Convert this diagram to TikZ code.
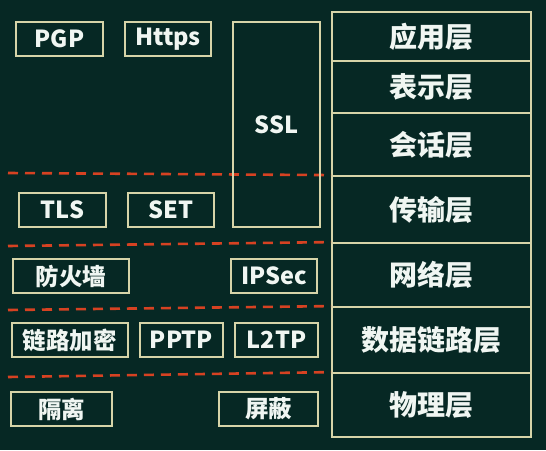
\documentclass[tikz,border=0pt]{standalone}
\usepackage{fontspec}
\setmainfont{Noto Sans CJK SC}
\definecolor{board}{RGB}{6,40,36}
\definecolor{frame}{RGB}{214,212,168}
\definecolor{ink}{RGB}{240,246,242}
\definecolor{cut}{RGB}{214,66,34}
\begin{document}
\begin{tikzpicture}[x=1pt,y=-1pt,
  proto/.style={draw=frame,line width=1.8pt,text=ink,inner sep=0pt,
    minimum height=34pt,font=\fontsize{23.5}{26}\selectfont\bfseries},
  layer/.style={draw=frame,line width=1.8pt,text=ink,inner sep=0pt,
    minimum width=199pt,font=\fontsize{28}{32}\selectfont\bfseries},
  divide/.style={draw=cut,line width=2.6pt,dash pattern=on 10pt off 7pt}]
\fill[board] (0,0) rectangle (546,450);
\useasboundingbox (0,0) rectangle (546,450);

% OSI layers on the right
\node[layer,minimum height=49pt] (app)  at (431.5,36.5)  {应用层};
\node[layer,minimum height=52pt] (pres) at (431.5,87)    {表示层};
\node[layer,minimum height=63pt] (sess) at (431.5,144.5) {会话层};
\node[layer,minimum height=67pt] (tran) at (431.5,209.5) {传输层};
\node[layer,minimum height=64pt] (net)  at (431.5,275)   {网络层};
\node[layer,minimum height=66pt] (link) at (431.5,340)   {数据链路层};
\node[layer,minimum height=64pt] (phy)  at (431.5,405)   {物理层};

% dashed separators between layer groups
\coordinate (d1) at (8,173);
\coordinate (d2) at (8,246);
\coordinate (d3) at (8,310);
\coordinate (d4) at (8,377);
\draw[divide] (d1) -- (tran.north west);
\draw[divide] (d2) -- (net.north west);
\draw[divide] (d3) -- (link.north west);
\draw[divide] (d4) -- (phy.north west);

% protocols and techniques per layer
\node[proto,minimum width=87pt] (pgp)   at (59.5,39)  {PGP};
\node[proto,minimum width=86pt] (https) at (168,39)   {Https};
\node[proto,minimum width=87pt,minimum height=205pt] (ssl) at (276.5,124.5) {SSL};
\node[proto,minimum width=87pt] (tls)   at (62.5,210) {TLS};
\node[proto,minimum width=86pt] (set)   at (171,210)  {SET};
\node[proto,minimum width=116pt] (fw)   at (71,276)   {防火墙};
\node[proto,minimum width=86pt] (ipsec) at (274,276)  {IPSec};
\node[proto,minimum width=116pt] (enc)  at (70,340)   {链路加密};
\node[proto,minimum width=83pt] (pptp)  at (181.5,340) {PPTP};
\node[proto,minimum width=83pt] (ltp)   at (276.5,340) {L2TP};
\node[proto,minimum width=101pt] (iso)  at (61.5,409) {隔离};
\node[proto,minimum width=99pt] (shield) at (268.5,409) {屏蔽};
\end{tikzpicture}
\end{document}
